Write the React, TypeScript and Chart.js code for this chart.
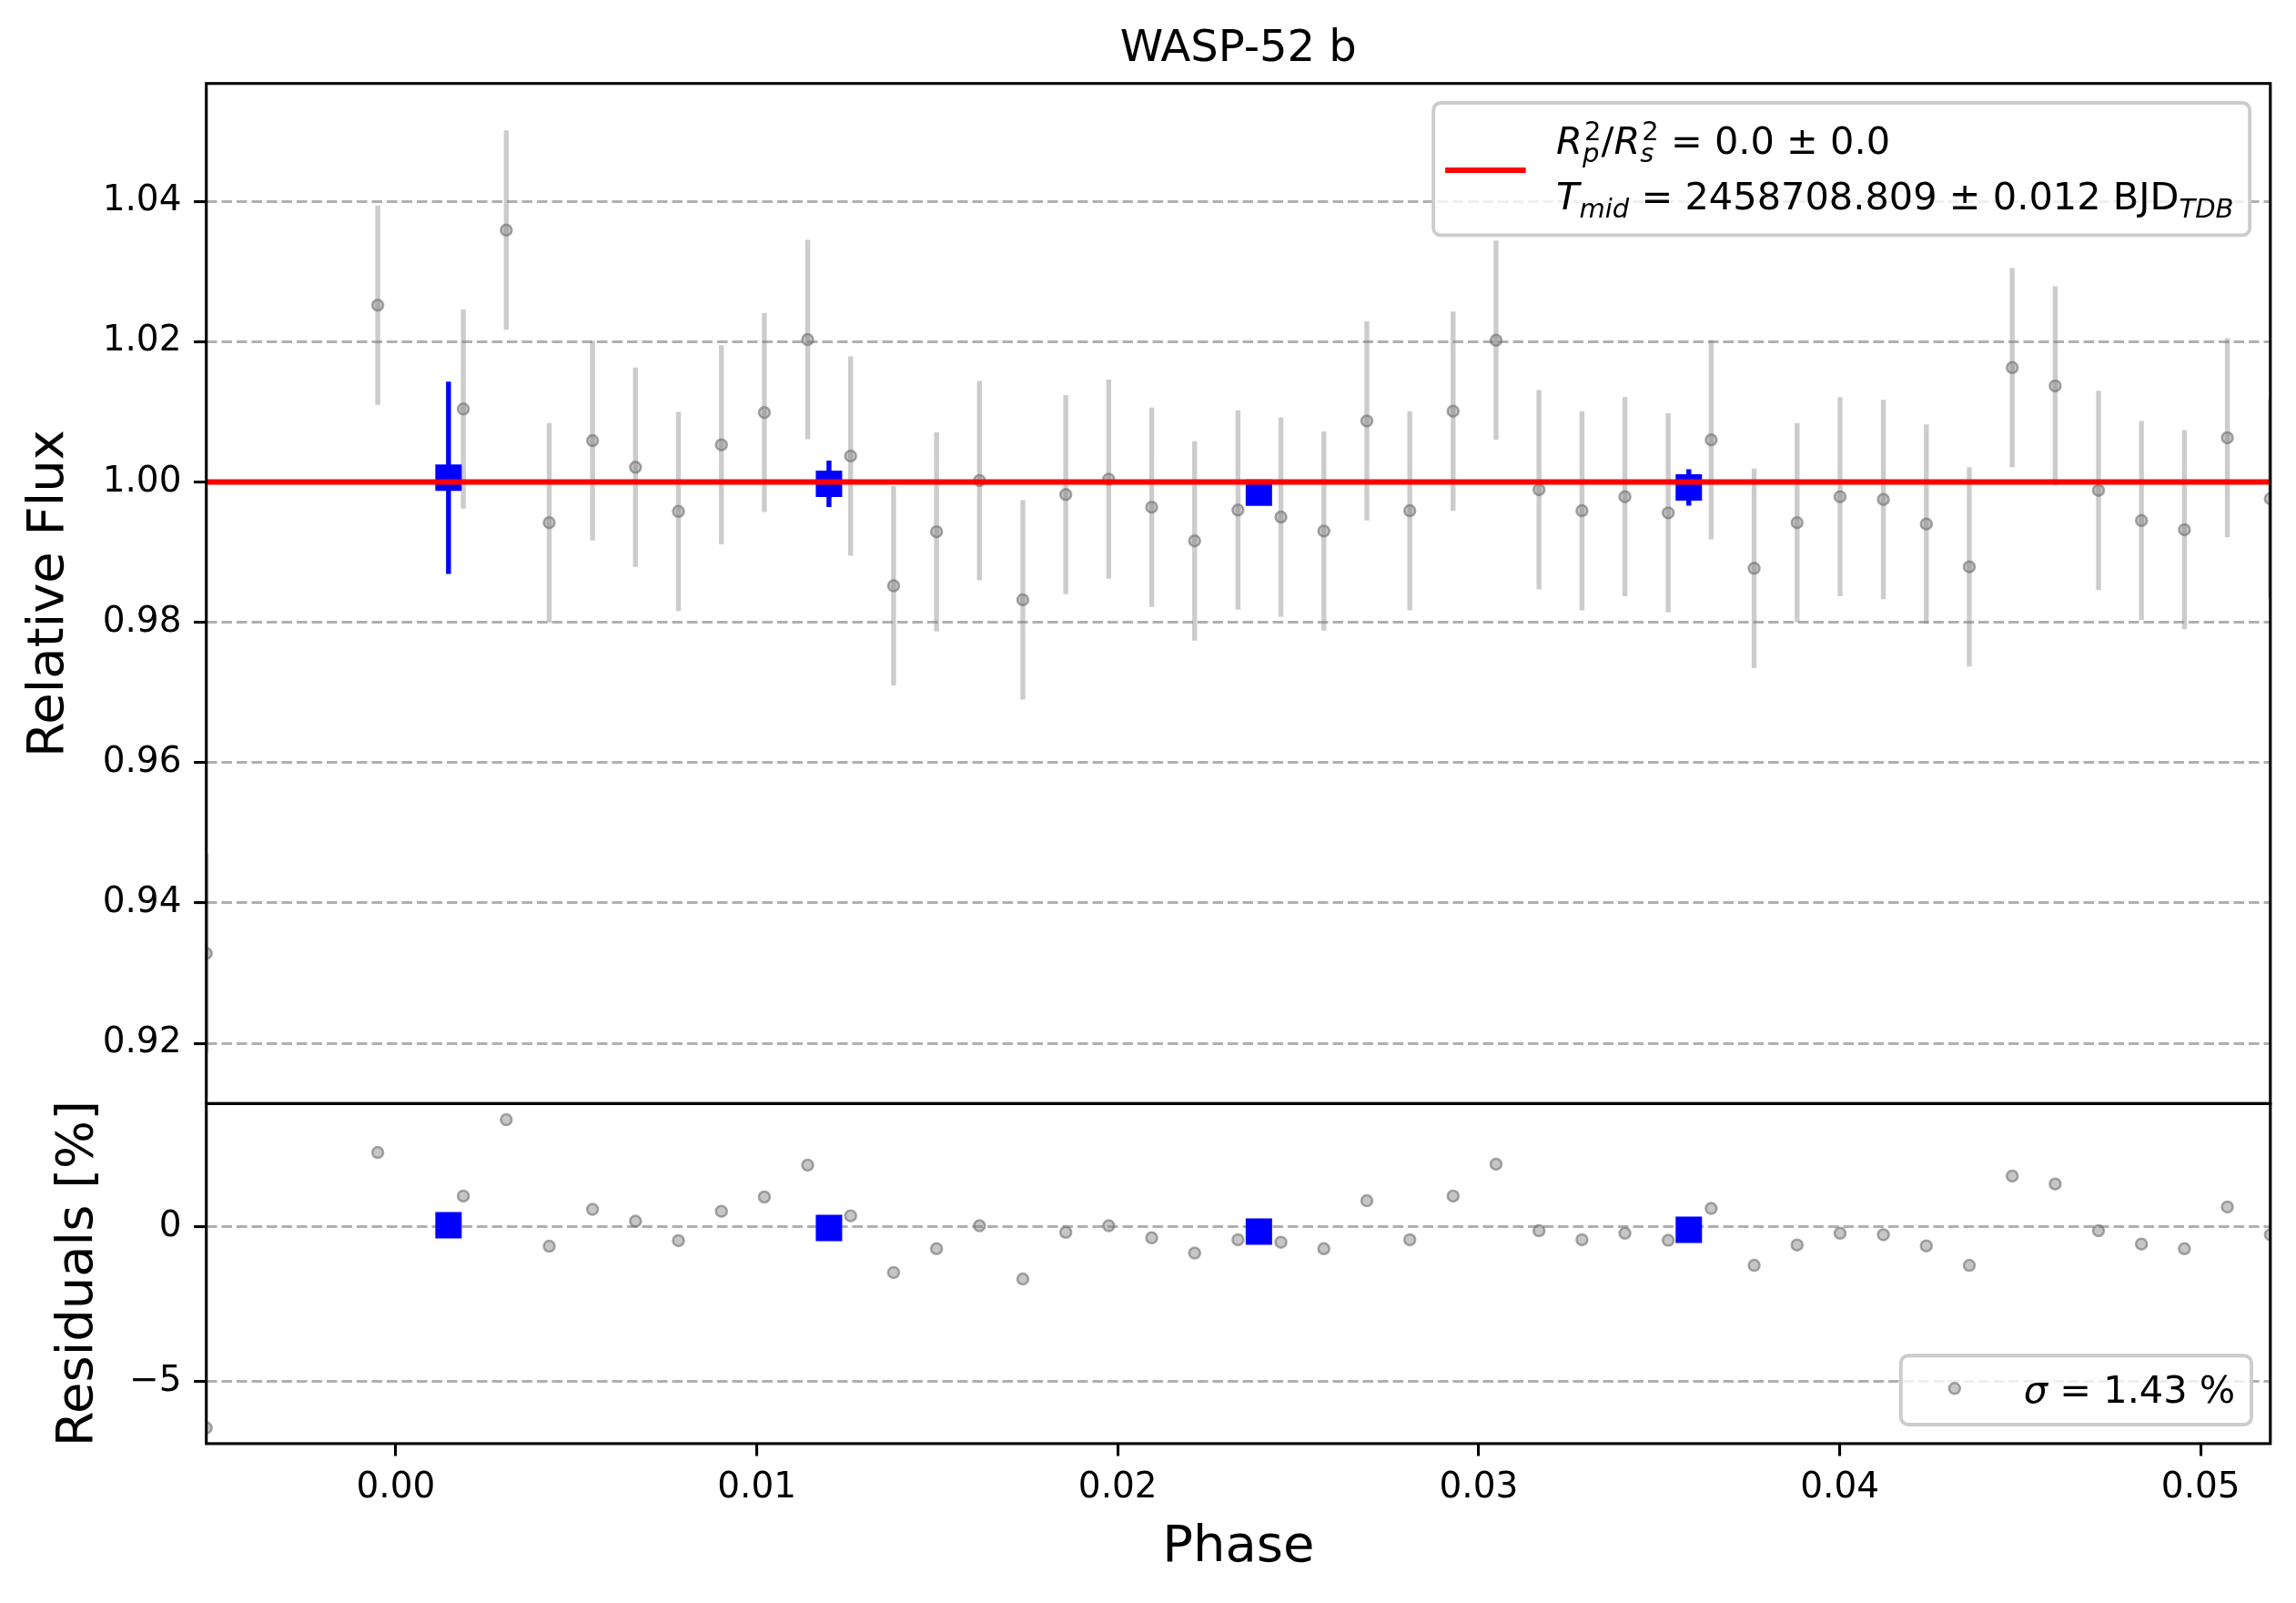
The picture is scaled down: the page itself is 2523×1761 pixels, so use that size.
import { useEffect, useRef } from "react";
import { Chart, registerables } from "chart.js";

Chart.register(...registerables);

// phase-folded light curve (grey points)
const phase = [
  -0.00525, -0.0005, 0.00187, 0.00306, 0.00425, 0.00545, 0.00664, 0.00783, 0.00902,
  0.01021, 0.01141, 0.0126, 0.01379, 0.01498, 0.01617, 0.01737, 0.01856, 0.01975,
  0.02094, 0.02213, 0.02333, 0.02452, 0.02571, 0.0269, 0.02809, 0.02929, 0.03048,
  0.03167, 0.03286, 0.03405, 0.03525, 0.03644, 0.03763, 0.03882, 0.04001, 0.04121,
  0.0424, 0.04359, 0.04478, 0.04597, 0.04717, 0.04836, 0.04955, 0.05074, 0.05193,
];
const flux = [
  0.9328, 1.0252, 1.0104, 1.0359, 0.9942, 1.0059, 1.0021, 0.9958, 1.0053,
  1.0099, 1.0203, 1.0037, 0.9852, 0.9929, 1.0002, 0.9832, 0.9982, 1.0004,
  0.9964, 0.9916, 0.996, 0.995, 0.993, 1.0087, 0.9959, 1.0101, 1.0202,
  0.9989, 0.9959, 0.9979, 0.9956, 1.006, 0.9877, 0.9942, 0.9979, 0.9975,
  0.994, 0.9879, 1.0163, 1.0137, 0.9988, 0.9945, 0.9932, 1.0063, 0.9976,
];
const fluxErr = 0.0142;
const residuals = [
  -6.49, 2.41, 1.0, 3.47, -0.62, 0.57, 0.19, -0.44, 0.51,
  0.97, 2.0, 0.36, -1.47, -0.7, 0.04, -1.68, -0.17, 0.04,
  -0.35, -0.84, -0.41, -0.49, -0.7, 0.85, -0.41, 1.0, 2.03,
  -0.12, -0.41, -0.2, -0.43, 0.6, -1.24, -0.58, -0.2, -0.25,
  -0.61, -1.24, 1.65, 1.39, -0.12, -0.55, -0.7, 0.65, -0.25,
];

// binned points (blue squares)
const binPhase = [0.00146, 0.012, 0.02391, 0.03582];
const binFlux = [1.0006, 0.99974, 0.99846, 0.99922];
const binErr = [0.0137, 0.0033, 0.0004, 0.0026];
const binResid = [0.06, -0.03, -0.15, -0.09];

// flat transit model
const modelPhase = [-0.00525, 0.05193];
const modelFlux = [1.0, 1.0];

const depth = "0.0";
const depthErr = "0.0";
const tMid = "2458708.809";
const tMidErr = "0.012";
const residSigma = 1.43;

const FAMILY = "'DejaVu Sans', sans-serif";
const GREY_FACE = "rgba(128,128,128,0.45)";
const GREY_EDGE = "rgba(110,110,110,0.6)";

type Part = { t?: string; it?: boolean; sub?: string; sup?: string };

// draws text with simple sub/superscripts, returns its width
function rich(ctx: CanvasRenderingContext2D, parts: Part[], x: number, y: number, size: number, draw: boolean) {
  let cx = x;
  for (const p of parts) {
    if (p.t !== undefined) {
      ctx.font = `${p.it ? "italic " : ""}${size}px ${FAMILY}`;
      if (draw) ctx.fillText(p.t, cx, y);
      cx += ctx.measureText(p.t).width;
    } else {
      const small = size * 0.7;
      let w = 0;
      if (p.sub) {
        ctx.font = `italic ${small}px ${FAMILY}`;
        if (draw) ctx.fillText(p.sub, cx, y + size * 0.22);
        w = Math.max(w, ctx.measureText(p.sub).width);
      }
      if (p.sup) {
        ctx.font = `${small}px ${FAMILY}`;
        if (draw) ctx.fillText(p.sup, cx + 2, y - size * 0.36);
        w = Math.max(w, ctx.measureText(p.sup).width + 2);
      }
      cx += w;
    }
  }
  return cx - x;
}

function legendBox(ctx: CanvasRenderingContext2D, x: number, y: number, w: number, h: number) {
  ctx.beginPath();
  ctx.roundRect(x, y, w, h, 8);
  ctx.fillStyle = "rgba(255,255,255,0.8)";
  ctx.fill();
  ctx.strokeStyle = "rgb(204,204,204)";
  ctx.lineWidth = 3.9;
  ctx.stroke();
}

const errorBars = {
  id: "errorBars",
  beforeDatasetDraw(chart: any, args: any) {
    const ds = chart.data.datasets[args.index];
    if (!ds.errors) return;
    const meta = chart.getDatasetMeta(args.index);
    const area = chart.chartArea;
    const ctx = chart.ctx;
    ctx.save();
    ctx.beginPath();
    ctx.rect(area.left, area.top, area.right - area.left, area.bottom - area.top);
    ctx.clip();
    ctx.strokeStyle = ds.errorColor;
    ctx.lineWidth = ds.errorWidth;
    ctx.lineCap = "butt";
    ds.data.forEach((pt: { x: number; y: number }, i: number) => {
      const px = meta.xScale.getPixelForValue(pt.x);
      ctx.beginPath();
      ctx.moveTo(px, meta.yScale.getPixelForValue(pt.y - ds.errors[i]));
      ctx.lineTo(px, meta.yScale.getPixelForValue(pt.y + ds.errors[i]));
      ctx.stroke();
    });
    ctx.restore();
  },
};

const decorations = {
  id: "decorations",
  afterDatasetsDraw(chart: any) {
    const { ctx, chartArea: area } = chart;
    ctx.save();
    ctx.strokeStyle = "#000";
    ctx.lineWidth = 3.1;
    for (const id of ["y", "yRes"]) {
      const s = chart.scales[id];
      ctx.strokeRect(area.left, s.top, area.right - area.left, s.bottom - s.top);
    }
    ctx.restore();
  },
  afterDraw(chart: any) {
    const { ctx, chartArea: area } = chart;
    const yMain = chart.scales.y;
    const yRes = chart.scales.yRes;
    ctx.save();
    ctx.fillStyle = "#000";
    ctx.textBaseline = "alphabetic";

    // title
    ctx.font = `48px ${FAMILY}`;
    ctx.textAlign = "center";
    ctx.fillText("WASP-52 b", (area.left + area.right) / 2, area.top - 24.7);
    ctx.textAlign = "left";

    // model legend
    const fs = 41.5;
    const line1: Part[] = [
      { t: "R", it: true }, { sub: "p", sup: "2" }, { t: "/" }, { t: "R", it: true }, { sub: "s", sup: "2" },
      { t: ` = ${depth} ± ${depthErr}` },
    ];
    const line2: Part[] = [
      { t: "T", it: true }, { sub: "mid" }, { t: ` = ${tMid} ± ${tMidErr} BJD` }, { sub: "TDB" },
    ];
    const w = Math.max(rich(ctx, line1, 0, 0, fs, false), rich(ctx, line2, 0, 0, fs, false));
    const right = area.right - 22.6;
    const top = yMain.top + 21.3;
    const textX = right - 17.7 - w;
    const left = textX - 135;
    legendBox(ctx, left, top, right - left, 145.4);
    ctx.strokeStyle = "#ff0000";
    ctx.lineWidth = 5.8;
    ctx.beginPath();
    ctx.moveTo(left + 13, top + 74);
    ctx.lineTo(left + 101.5, top + 74);
    ctx.stroke();
    ctx.fillStyle = "#000";
    rich(ctx, line1, textX, top + 55.5, fs, true);
    rich(ctx, line2, textX, top + 117, fs, true);

    // residual legend
    const sig: Part[] = [{ t: "σ", it: true }, { t: ` = ${residSigma.toFixed(2)} %` }];
    const sw = rich(ctx, sig, 0, 0, fs, false);
    const rRight = area.right - 20.8;
    const rTop = yRes.bottom - 20.9 - 75.7;
    const sx = rRight - 17.7 - sw;
    const mx = sx - 76;
    const rLeft = mx - 59;
    legendBox(ctx, rLeft, rTop, rRight - rLeft, 75.7);
    ctx.beginPath();
    ctx.arc(mx, rTop + 36, 6, 0, Math.PI * 2);
    ctx.fillStyle = GREY_FACE;
    ctx.fill();
    ctx.strokeStyle = GREY_EDGE;
    ctx.lineWidth = 2.5;
    ctx.stroke();
    ctx.fillStyle = "#000";
    rich(ctx, sig, sx, rTop + 51.5, fs, true);
    ctx.restore();
  },
};

const tickFont = { family: FAMILY, size: 39 };
const labelFont = { family: FAMILY, size: 56 };

export default function App() {
  const canvasRef = useRef<HTMLCanvasElement | null>(null);

  useEffect(() => {
    if (!canvasRef.current) return;
    document.body.style.margin = "0";
    document.body.style.overflow = "hidden";

    const gridOpts = {
      color: "#b0b0b0",
      lineWidth: 3.1,
      tickLength: 13.6,
      tickWidth: 3.1,
      tickColor: "#000",
      tickBorderDash: [],
    };

    const chart = new Chart(canvasRef.current, {
      type: "scatter",
      data: {
        datasets: [
          {
            label: "model",
            data: modelPhase.map((p, i) => ({ x: p, y: modelFlux[i] })),
            yAxisID: "y",
            showLine: true,
            borderColor: "#ff0000",
            borderWidth: 5.8,
            pointRadius: 0,
            order: 1,
          },
          {
            label: "binned",
            data: binPhase.map((p, i) => ({ x: p, y: binFlux[i] })),
            yAxisID: "y",
            pointStyle: "rect",
            pointRadius: 20.5,
            pointBorderWidth: 0,
            pointBackgroundColor: "#0000ff",
            errors: binErr,
            errorColor: "#0000ff",
            errorWidth: 5.4,
            order: 2,
          } as any,
          {
            label: "binned residuals",
            data: binPhase.map((p, i) => ({ x: p, y: binResid[i] })),
            yAxisID: "yRes",
            pointStyle: "rect",
            pointRadius: 20.5,
            pointBorderWidth: 0,
            pointBackgroundColor: "#0000ff",
            order: 2,
          },
          {
            label: "data",
            data: phase.map((p, i) => ({ x: p, y: flux[i] })),
            yAxisID: "y",
            pointRadius: 6,
            pointBorderWidth: 2.5,
            pointBackgroundColor: GREY_FACE,
            pointBorderColor: GREY_EDGE,
            errors: phase.map(() => fluxErr),
            errorColor: "rgba(128,128,128,0.4)",
            errorWidth: 5.4,
            order: 3,
          } as any,
          {
            label: "residuals",
            data: phase.map((p, i) => ({ x: p, y: residuals[i] })),
            yAxisID: "yRes",
            pointRadius: 6,
            pointBorderWidth: 2.5,
            pointBackgroundColor: GREY_FACE,
            pointBorderColor: GREY_EDGE,
            order: 3,
          },
        ],
      },
      options: {
        animation: false,
        responsive: true,
        maintainAspectRatio: false,
        devicePixelRatio: 1,
        events: [],
        layout: { padding: { left: 0, right: 28.2, top: 91.7, bottom: 0 } },
        plugins: { legend: { display: false }, tooltip: { enabled: false }, title: { display: false } },
        scales: {
          x: {
            type: "linear",
            position: "bottom",
            min: -0.00525,
            max: 0.05193,
            grid: { ...gridOpts, drawOnChartArea: false },
            border: { display: false },
            ticks: {
              stepSize: 0.01,
              includeBounds: false,
              padding: 11.6,
              maxRotation: 0,
              color: "#000",
              font: tickFont,
              callback: (v: any) => Number(v).toFixed(2),
            },
            title: { display: true, text: "Phase", color: "#000", font: labelFont, padding: 27.4 },
            afterFit: (s: any) => {
              s.height = 175.1;
            },
          },
          yRes: {
            type: "linear",
            position: "left",
            stack: "panels",
            stackWeight: 1,
            min: -7.0,
            max: 3.99,
            grid: gridOpts,
            border: { display: false, dash: [11.5, 5] },
            ticks: {
              stepSize: 5,
              includeBounds: false,
              padding: 13.6,
              color: "#000",
              font: tickFont,
              callback: (v: any) => String(Math.round(Number(v))).replace("-", "\u2212"),
            },
            title: { display: true, text: "Residuals [%]", color: "#000", font: labelFont, padding: 52.4 },
            afterFit: (s: any) => {
              s.width = 226.7;
            },
          },
          y: {
            type: "linear",
            position: "left",
            stack: "panels",
            stackWeight: 3,
            min: 0.9114,
            max: 1.0568,
            grid: gridOpts,
            border: { display: false, dash: [11.5, 5] },
            ticks: {
              stepSize: 0.02,
              includeBounds: false,
              padding: 13.6,
              color: "#000",
              font: tickFont,
              callback: (v: any) => Number(v).toFixed(2),
            },
            title: { display: true, text: "Relative Flux", color: "#000", font: labelFont, padding: 20.4 },
            afterFit: (s: any) => {
              s.width = 226.7;
            },
          },
        },
      } as any,
      plugins: [errorBars, decorations],
    });

    return () => {
      chart.destroy();
    };
  }, []);

  return (
    <div style={{ width: "2523px", height: "1761px", position: "relative" }}>
      <canvas ref={canvasRef}></canvas>
    </div>
  );
}
